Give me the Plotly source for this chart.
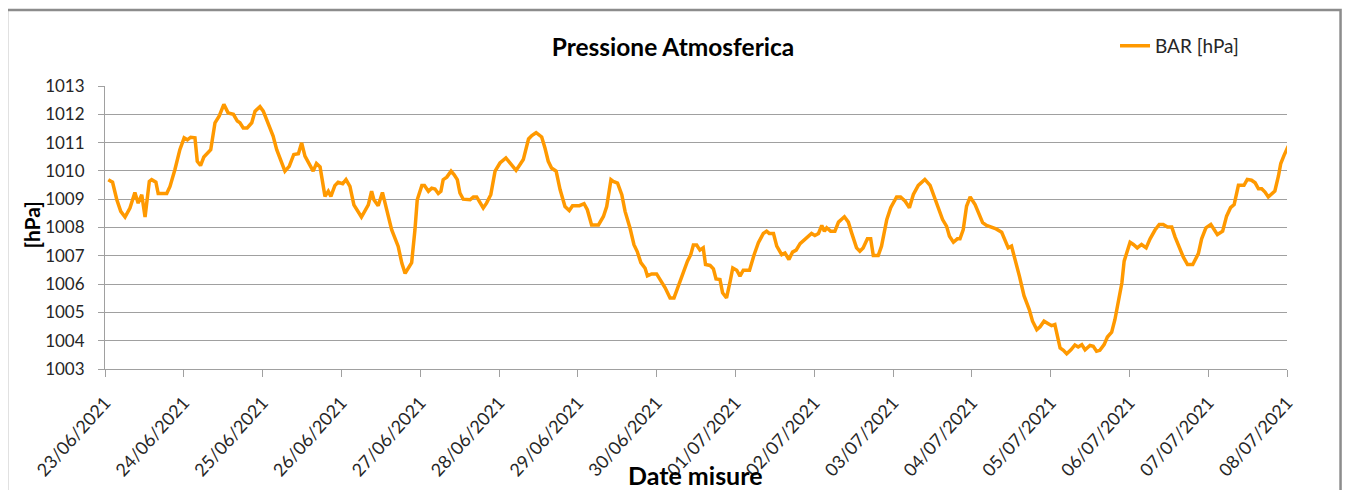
import pandas as pd
import plotly.graph_objects as go

# Hours elapsed since 23/06/2021 00:00
hours = [1.0, 2.3, 3.6, 4.8, 6.1, 7.6, 9.1, 10.1, 11.2, 12.2, 13.5, 14.2, 15.5, 16.2,
         18.8, 19.8, 21.3, 22.8, 24.1, 25.1, 26.1, 27.4, 28.1, 29.1, 30.1, 31.0, 32.2,
         33.5, 34.8, 36.2, 37.5, 39.1, 40.3, 41.1, 42.1, 43.3, 44.7, 45.7, 47.2, 48.2,
         49.7, 51.2, 52.3, 53.8, 54.8, 56.1, 57.5, 58.9, 59.9, 60.9, 62.4, 63.4, 64.4,
         65.5, 67.0, 68.0, 68.8, 70.0, 71.0, 72.4, 73.4, 74.6, 75.8, 76.6, 78.1, 80.2,
         81.2, 81.9, 83.2, 84.5,
         86.0, 87.3, 89.3, 90.4, 91.4, 93.4, 94.4, 95.1, 96.5, 97.3, 98.5, 99.5, 100.5,
         101.5, 102.3, 103.0, 104.1, 105.4, 106.3, 107.3, 108.1, 109.1, 111.2, 112.2,
         113.2, 114.2, 115.2, 116.2, 117.5, 118.8, 120.3, 122.1, 123.4, 125.2, 126.2,
         127.4, 129.0, 130.0, 131.3, 133.0, 134.0, 135.0, 136.0, 137.4, 138.6, 140.1,
         141.4, 142.4, 144.5, 145.9, 146.9, 148.2, 150.3, 151.8, 152.8, 154.1, 154.8,
         156.1, 157.4, 158.4, 159.9, 161.1, 162.1, 163.2, 164.5, 165.2, 166.5, 168.0,
         170.6, 172.1, 173.3, 174.6, 176.1, 177.4, 178.4, 179.2, 180.2, 181.2, 182.2,
         182.9, 184.3, 185.3, 186.1, 187.3, 188.1, 189.3, 190.4, 191.2, 192.4, 193.4,
         194.4, 196.3, 197.7, 199.0, 200.5, 201.5, 202.3, 203.6, 204.6, 206.1, 207.1,
         208.3, 209.4, 210.5, 211.7, 213.2, 215.2, 216.2, 217.3, 218.3, 219.1, 219.8,
         221.0, 222.3, 223.4, 225.2, 226.4, 227.4, 228.9, 229.9, 230.9, 232.2, 233.2,
         234.0, 235.5, 236.5, 238.1, 239.3, 241.1, 242.3, 243.7, 245.0, 246.2, 247.7,
         249.7, 251.3, 252.5, 253.8, 255.1, 256.3, 257.2, 258.4, 259.6,
         260.4, 261.4, 262.4, 263.5, 265.0, 266.0, 267.3, 268.5, 270.1, 271.4, 273.1,
         274.1, 275.1, 276.1, 277.2, 278.5, 279.9, 281.5, 282.5, 283.8, 284.8, 286.0,
         287.3, 288.3, 289.3, 290.1, 290.9, 291.9, 292.9, 294.2, 295.4, 296.4, 297.5,
         298.5, 300.0, 301.0, 302.0, 303.0, 304.3, 305.3, 306.6, 307.6, 308.6, 309.7,
         310.4, 311.2, 312.2, 313.2, 314.4, 315.7, 317.1, 318.3, 319.8, 321.1, 322.3,
         323.6, 324.9, 325.9, 327.2, 328.4, 329.7, 331.3, 333.0, 334.0, 335.3, 336.8,
         337.8, 338.8, 340.4, 341.6, 342.8, 343.9, 345.2, 346.9, 347.9, 349.2, 350.3,
         351.3, 352.3, 353.3, 354.3, 356.3, 357.4, 358.1, 359.1, 360.4]

# Pressure [hPa]
bar_hpa = [1009.69, 1009.6, 1008.98, 1008.57, 1008.37, 1008.69, 1009.24, 1008.86, 1009.16,
           1008.37, 1009.63, 1009.69, 1009.6, 1009.2, 1009.2, 1009.45, 1010.05, 1010.75,
           1011.17, 1011.1, 1011.19, 1011.17, 1010.34, 1010.19, 1010.49, 1010.61, 1010.75,
           1011.7, 1011.94, 1012.35, 1012.05, 1012.0, 1011.76, 1011.7, 1011.52, 1011.52,
           1011.7, 1012.11, 1012.27, 1012.11, 1011.7, 1011.23, 1010.75, 1010.28, 1009.99,
           1010.16, 1010.58, 1010.61, 1010.99, 1010.52, 1010.16, 1009.99, 1010.26, 1010.14,
           1009.1, 1009.28, 1009.1, 1009.48, 1009.6, 1009.55, 1009.69, 1009.45, 1008.8,
           1008.63, 1008.37, 1008.8, 1009.28, 1008.98, 1008.77, 1009.24,
           1008.57, 1007.92, 1007.33, 1006.74, 1006.38, 1006.76, 1007.92, 1008.98, 1009.48,
           1009.48, 1009.28, 1009.39, 1009.36, 1009.2, 1009.28, 1009.69, 1009.78, 1009.99,
           1009.87, 1009.69, 1009.22, 1009.0, 1008.98, 1009.08, 1009.08, 1008.89, 1008.69,
           1008.86, 1009.16, 1009.99, 1010.28, 1010.46, 1010.28, 1010.02, 1010.19, 1010.4,
           1011.13, 1011.25, 1011.35, 1011.2, 1010.81, 1010.34, 1010.1, 1009.99, 1009.34,
           1008.74, 1008.6, 1008.77, 1008.77, 1008.84, 1008.63, 1008.09, 1008.09, 1008.39,
           1008.74, 1009.69, 1009.63, 1009.57, 1009.16, 1008.57, 1007.98, 1007.39, 1007.15,
           1006.76, 1006.56, 1006.29, 1006.36, 1006.36,
           1005.87, 1005.51, 1005.51, 1005.92, 1006.46, 1006.81, 1007.04, 1007.38, 1007.38,
           1007.2, 1007.28, 1006.69, 1006.66, 1006.54, 1006.18, 1006.16, 1005.69, 1005.51,
           1006.1, 1006.57, 1006.49, 1006.28, 1006.49, 1006.49, 1007.04, 1007.46, 1007.79,
           1007.87, 1007.79, 1007.79, 1007.34, 1007.04, 1007.1, 1006.87, 1007.13, 1007.2,
           1007.43, 1007.6, 1007.79, 1007.72, 1007.79, 1008.07, 1007.87, 1007.99, 1007.87,
           1007.87, 1008.19, 1008.38, 1008.19, 1007.81, 1007.28, 1007.16, 1007.28, 1007.6,
           1007.6, 1007.01, 1007.01, 1007.34, 1008.28, 1008.7, 1009.08, 1009.08, 1008.93,
           1008.7, 1009.17, 1009.49, 1009.7, 1009.49, 1009.11, 1008.7, 1008.28, 1008.05,
           1007.69, 1007.48, 1007.6,
           1007.6, 1007.93, 1008.75, 1009.08, 1008.81, 1008.52, 1008.17, 1008.07, 1008.02,
           1007.95, 1007.83, 1007.58, 1007.28, 1007.34, 1006.87, 1006.28, 1005.59, 1005.1,
           1004.69, 1004.39, 1004.49, 1004.69, 1004.6, 1004.53, 1004.57, 1004.1, 1003.74,
           1003.66, 1003.54, 1003.68, 1003.85, 1003.78, 1003.86, 1003.68, 1003.83, 1003.8,
           1003.63, 1003.66, 1003.86, 1004.13, 1004.3, 1004.75, 1005.33, 1006.04, 1006.81,
           1007.16, 1007.48, 1007.4, 1007.28, 1007.4, 1007.28, 1007.6, 1007.91, 1008.11,
           1008.11, 1008.02, 1008.02, 1007.67, 1007.28, 1006.96, 1006.69, 1006.69, 1007.08,
           1007.6, 1007.99, 1008.11, 1007.93, 1007.75, 1007.87, 1008.4, 1008.7, 1008.81,
           1009.49, 1009.49, 1009.7, 1009.67, 1009.58, 1009.37, 1009.37, 1009.25, 1009.08,
           1009.29, 1009.82, 1010.26, 1010.55, 1010.88]

start = pd.Timestamp("2021-06-23 00:00")
times = start + pd.to_timedelta(hours, unit="h")

font_name = "Lato"
grid_col = "#A0A0A0"
text_col = "#262626"

fig = go.Figure()
fig.add_trace(go.Scatter(
    x=times, y=bar_hpa, mode="lines", name="BAR [hPa]",
    line=dict(color="#FF9900", width=3.5)
))

# page body adds an 8px offset, margins compensate for it
fig.update_layout(
    width=1351, height=490,
    margin=dict(l=97, r=72, t=78, b=129),
    paper_bgcolor="white", plot_bgcolor="white",
    font=dict(family=font_name, size=16, color=text_col),
    title=dict(text="<b>Pressione Atmosferica</b>", x=0.4922, xanchor="center",
               y=0.919, yanchor="middle", font=dict(size=24.5, color="#000000")),
    showlegend=True,
    legend=dict(x=0.8545, y=1.142, xanchor="left", yanchor="middle",
                bgcolor="rgba(0,0,0,0)", font=dict(size=19, color=text_col)),
)

fig.update_xaxes(
    type="date", range=["2021-06-23", "2021-07-08"], dtick=86400000,
    tickformat="%d/%m/%Y", tickangle=-48, showgrid=False,
    showline=True, linecolor=grid_col, linewidth=1,
    ticks="outside", ticklen=7, tickcolor=grid_col, ticklabelstandoff=8,
    tickfont=dict(size=18, color=text_col),
)
fig.update_yaxes(
    range=[1003, 1013], dtick=1, showgrid=True, gridcolor=grid_col, gridwidth=1,
    showline=True, linecolor=grid_col, linewidth=1,
    ticks="outside", ticklen=6, tickcolor=grid_col, ticklabelstandoff=10,
    tickfont=dict(size=17, color=text_col),
)

# axis titles
fig.add_annotation(text="<b>Date misure</b>", xref="paper", yref="paper",
                   x=0.4996, y=-0.3746, showarrow=False,
                   xanchor="center", yanchor="middle",
                   font=dict(size=25, color="#000000"))
fig.add_annotation(text="<b>[hPa]</b>", xref="paper", yref="paper",
                   x=-0.0618, y=0.51, showarrow=False, textangle=-90,
                   xanchor="center", yanchor="middle",
                   font=dict(size=21, color="#000000"))

# chart frame
fig.add_shape(type="rect", xref="paper", yref="paper",
              x0=-0.0829, x1=1.0453, y0=-0.5, y1=1.2686,
              line=dict(color="#8C8C8C", width=2.5), layer="below")

fig.write_html("out.html")
